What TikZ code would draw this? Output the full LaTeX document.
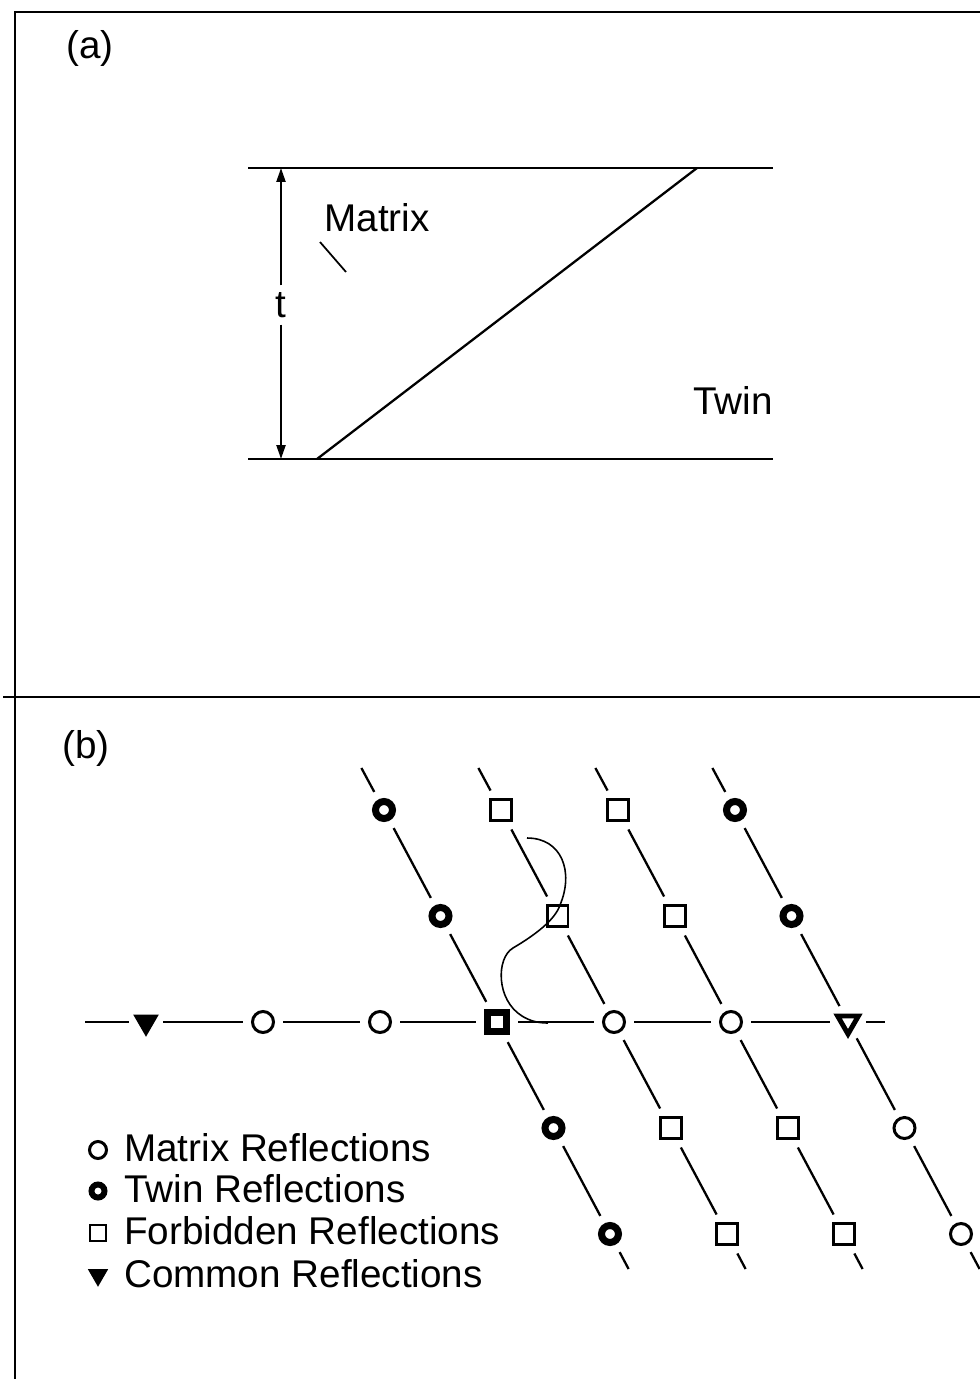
\documentclass[tikz,border=0pt]{standalone}
\usepackage{fontspec}
\setmainfont{Liberation Sans}
\usetikzlibrary{arrows.meta, shapes.geometric}

\begin{document}
\begin{tikzpicture}[x=0.02cm, y=-0.02cm, line width=1.3pt, font=\fontsize{22}{26}\selectfont]
    \tikzstyle{mrefl}=[circle, draw, line width=1.7pt, minimum size=0.42cm, inner sep=0pt]
    \tikzstyle{trefl}=[circle, draw, line width=4pt, minimum size=0.34cm, inner sep=0pt]
    \tikzstyle{frefl}=[rectangle, draw, line width=1.7pt, minimum size=0.42cm, inner sep=0pt]
    \tikzstyle{fbold}=[rectangle, draw, line width=3.6pt, minimum size=0.38cm, inner sep=0pt]
    \tikzstyle{crefl}=[regular polygon, regular polygon sides=3, shape border rotate=180, draw, fill, line width=1pt, minimum size=0.52cm, inner sep=0pt]
    \tikzstyle{copen}=[regular polygon, regular polygon sides=3, shape border rotate=180, draw, line width=2.8pt, minimum size=0.48cm, inner sep=0pt]
    \tikzstyle{latt}=[shorten <=0.17cm, shorten >=0.17cm]
    \useasboundingbox (0,0) rectangle (980,1379);

    % frame
    \draw[line width=1.2pt] (15,1379) -- (15,12) -- (980,12);
    \draw[line width=1.2pt] (3,697) -- (980,697);

    % (a) twin in a foil
    \node (la) at (90,48) {(a)};
    \coordinate (tl) at (248,168);
    \coordinate (tr) at (773,168);
    \coordinate (bl) at (248,459);
    \coordinate (br) at (773,459);
    \coordinate (bnd0) at (317,459);
    \coordinate (bnd1) at (697,168);
    \draw (tl) -- (tr);
    \draw (bl) -- (br);
    \draw (bnd0) -- (bnd1);
    \node (thick) at (281,305) {t};
    \coordinate (ttop) at (281,168);
    \coordinate (tbot) at (281,459);
    \draw[-{Stealth[length=2.8mm, width=1.8mm, inset=0pt]}] (thick) -- (ttop);
    \draw[-{Stealth[length=2.8mm, width=1.8mm, inset=0pt]}] (thick) -- (tbot);
    \node (matrix) at (377,218) {Matrix};
    \coordinate (ld0) at (320,242);
    \coordinate (ld1) at (346,272);
    \draw[line width=1pt] (ld0) -- (ld1);
    \node (twin) at (733,400) {Twin};

    % (b) diffraction pattern
    \node (lb) at (86,748) {(b)};
    \foreach \c/\r/\kind in {3/0/trefl, 4/0/frefl, 5/0/frefl, 6/0/trefl,
                             3/1/trefl, 4/1/frefl, 5/1/frefl, 6/1/trefl,
                             0/2/crefl, 1/2/mrefl, 2/2/mrefl, 3/2/fbold, 4/2/mrefl, 5/2/mrefl, 6/2/copen,
                             3/3/trefl, 4/3/frefl, 5/3/frefl, 6/3/mrefl,
                             3/4/trefl, 4/4/frefl, 5/4/frefl, 6/4/mrefl}
      \node[\kind] (n\c\r) at ({33+117*\c+56.5*\r}, {810+106*\r}) {};

    % twin rows
    \foreach \c in {3,...,6} {
      \coordinate (s\c) at ({33+117*\c-22.6}, 768);
      \coordinate (e\c) at ({33+117*\c+244.6}, 1269);
      \draw[latt, shorten <=0pt] (s\c) -- (n\c0);
      \foreach \r [evaluate=\r as \rn using int(\r+1)] in {0,...,3}
        \draw[latt] (n\c\r) -- (n\c\rn);
      \draw[latt, shorten >=0pt] (n\c4) -- (e\c);
    }

    % matrix row
    \coordinate (hs) at (85,1022);
    \coordinate (he) at (885,1022);
    \draw[latt, shorten <=0pt] (hs) -- (n02);
    \foreach \c [evaluate=\c as \cn using int(\c+1)] in {0,...,5}
      \draw[latt] (n\c2) -- (n\cn2);
    \draw[latt, shorten >=0pt] (n62) -- (he);

    % double diffraction route
    \coordinate (dd0) at (527,838);
    \coordinate (dd1) at (560,905);
    \coordinate (dd2) at (513,948);
    \coordinate (dd3) at (522,1016);
    \coordinate (dd4) at (548,1023);
    \draw[line width=0.9pt] (dd0) .. controls (562,838) and (574,872) .. (dd1)
      .. controls (555,920) and (535,935) .. (dd2)
      .. controls (496,958) and (496,1000) .. (dd3)
      .. controls (530,1021) and (538,1023) .. (dd4);

    % legend
    \node[mrefl, minimum size=0.34cm] (km) at (98,1150) {};
    \node[trefl, minimum size=0.26cm, line width=3.4pt] (kt) at (98,1191) {};
    \node[frefl, minimum size=0.32cm, line width=1.4pt] (kf) at (98,1233) {};
    \node[crefl, minimum size=0.40cm] (kc) at (98,1275) {};
    \node[anchor=base west, inner sep=0pt] (kmt) at (123,1161) {Matrix Reflections};
    \node[anchor=base west, inner sep=0pt] (ktt) at (123,1202) {Twin Reflections};
    \node[anchor=base west, inner sep=0pt] (kft) at (123,1244) {Forbidden Reflections};
    \node[anchor=base west, inner sep=0pt] (kct) at (123,1287) {Common Reflections};
\end{tikzpicture}
\end{document}
